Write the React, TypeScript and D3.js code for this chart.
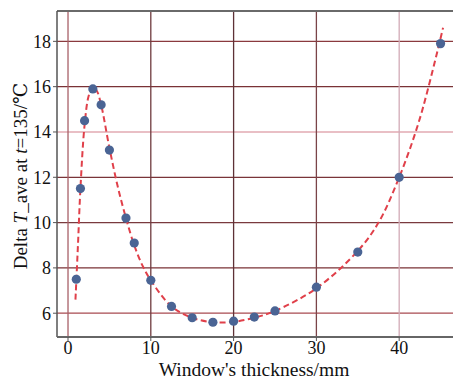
import React from "react";
import * as d3 from "d3";

const thickness = [1, 1.5, 2, 3, 4, 5, 7, 8, 10, 12.5, 15, 17.5, 20, 22.5, 25, 30, 35, 40, 45];
const deltaT = [7.5, 11.5, 14.5, 15.9, 15.2, 13.2, 10.2, 9.1, 7.45, 6.3, 5.8, 5.6, 5.65, 5.83, 6.1, 7.15, 8.7, 12.0, 17.9];

const fitX = [0.9, 1.2, 1.5, 2, 2.5, 3, 3.5, 4, 5, 6, 7, 8, 9, 10, 12.5, 15, 17.5, 20, 22.5, 25, 30, 35, 37.5, 40, 42.5, 45.3];
const fitY = [6.6, 9.0, 11.5, 14.3, 15.6, 16.0, 15.8, 15.2, 13.3, 11.6, 10.2, 9.0, 8.1, 7.45, 6.3, 5.8, 5.6, 5.62, 5.8, 6.1, 7.1, 8.75, 10.0, 12.0, 14.6, 18.6];

const xTicks = [0, 10, 20, 30, 40];
const yTicks = [6, 8, 10, 12, 14, 16, 18];
const xGridColors = ["#a86068", "#6e3a3e", "#5e3236", "#7a4448", "#d2aab6"];
const yGridColors = ["#a84a50", "#7a3236", "#7a3a3e", "#7a3438", "#e2aab2", "#7a3236", "#8a3a3e"];

const W = 453, H = 379;
const left = 57, top = 11, bottom = 337, right = 453;
const font = "Liberation Serif, DejaVu Serif, serif";

export default function App() {
  const x = d3.scaleLinear().domain([-1.33, 46.5]).range([left, right]);
  const y = d3.scaleLinear().domain([4.95, 19.34]).range([bottom, top]);
  const fitPts: [number, number][] = fitX.map((v, i) => [v, fitY[i]]);
  const line = d3.line<[number, number]>().x(d => x(d[0])).y(d => y(d[1])).curve(d3.curveCatmullRom.alpha(0.5));
  const ts = { fontFamily: font };
  return (
    <svg width={W} height={H} style={{ position: "absolute", left: 0, top: 0, display: "block", background: "#fff", fontFamily: font }}>
      {yTicks.map((t, i) => (
        <line key={"yg" + t} x1={left} x2={right} y1={y(t)} y2={y(t)} stroke={yGridColors[i]} strokeWidth={1.3} />
      ))}
      {xTicks.map((t, i) => (
        <line key={"xg" + t} x1={x(t)} x2={x(t)} y1={top} y2={bottom} stroke={xGridColors[i]} strokeWidth={1.3} />
      ))}
      <line x1={left} x2={right} y1={top} y2={top} stroke="#6a6a6a" strokeWidth={2} />
      <line x1={left} x2={left} y1={top} y2={bottom} stroke="#555" strokeWidth={1.5} />
      <line x1={left} x2={right} y1={bottom} y2={bottom} stroke="#666" strokeWidth={1.8} />
      {yTicks.map(t => (
        <g key={"yt" + t}>
          <line x1={left - 4} x2={left} y1={y(t)} y2={y(t)} stroke="#555" strokeWidth={1} />
          <text x={left - 6} y={y(t)} dy="0.35em" textAnchor="end" fontSize={18} fill="#111" style={ts}>{t}</text>
        </g>
      ))}
      {xTicks.map(t => (
        <g key={"xt" + t}>
          <line x1={x(t)} x2={x(t)} y1={bottom} y2={bottom + 4} stroke="#555" strokeWidth={1} />
          <text x={x(t)} y={bottom + 17} textAnchor="middle" fontSize={18} fill="#111" style={ts}>{t}</text>
        </g>
      ))}
      <path d={line(fitPts) || ""} fill="none" stroke="#e0404a" strokeWidth={2} strokeDasharray="6,3.5" />
      {thickness.map((t, i) => (
        <circle key={"p" + i} cx={x(t)} cy={y(deltaT[i])} r={4.6} fill="#4a6494" />
      ))}
      <text x={254} y={376} textAnchor="middle" fontSize={19.5} fill="#111" style={ts}>Window's thickness/mm</text>
      <text transform={`translate(27, 176) rotate(-90)`} textAnchor="middle" fontSize={19} fill="#111" style={ts}>
        Delta <tspan fontStyle="italic">T</tspan>_ave at <tspan fontStyle="italic">t</tspan>=135/℃
      </text>
    </svg>
  );
}
